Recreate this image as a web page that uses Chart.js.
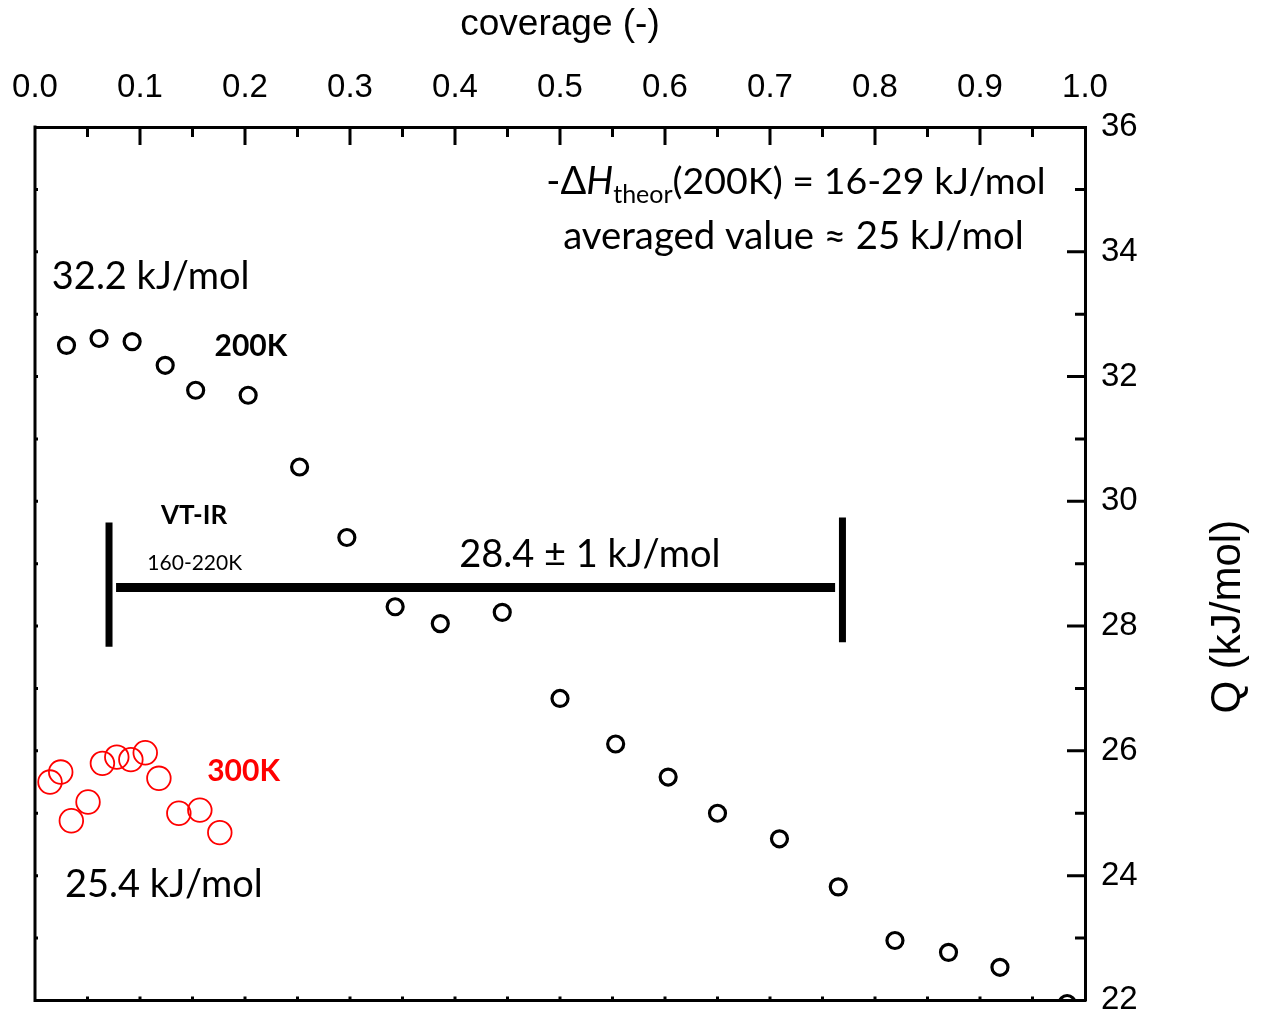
<!DOCTYPE html>
<html><head><meta charset="utf-8">
<script src="https://cdn.jsdelivr.net/npm/chart.js@4.4.1/dist/chart.umd.min.js"></script>
<style>html,body{margin:0;padding:0;background:#fff;}</style>
</head><body>
<canvas id="c" width="1269" height="1014"></canvas>
<script>
// ---- data ----
const coverage200 = [0.030, 0.061, 0.0925, 0.124, 0.153, 0.203, 0.252, 0.297, 0.343, 0.386, 0.445, 0.500, 0.553, 0.603, 0.650, 0.709, 0.765, 0.819, 0.870, 0.919, 0.983];
const q200        = [32.50, 32.61, 32.56, 32.18, 31.78, 31.70, 30.55, 29.42, 28.31, 28.04, 28.22, 26.84, 26.11, 25.58, 25.00, 24.59, 23.82, 22.96, 22.77, 22.53, 21.95];
const coverage300 = [0.0143, 0.0245, 0.0346, 0.0505, 0.0642, 0.0779, 0.0913, 0.105, 0.118, 0.137, 0.157, 0.176];
const q300        = [25.50, 25.66, 24.88, 25.18, 25.80, 25.90, 25.86, 25.97, 25.56, 25.00, 25.05, 24.69];
// VT-IR range bar (coverage span and Q level), with end caps
const vtirCoverage = [0.0772, 0.762];
const vtirQ = [28.62, 28.62];
const capLeftCoverage = [0.0705, 0.0705];
const capLeftQ = [27.67, 29.66];
const capRightCoverage = [0.769, 0.769];
const capRightQ = [27.74, 29.74];
const xTickValues = [0.0, 0.1, 0.2, 0.3, 0.4, 0.5, 0.6, 0.7, 0.8, 0.9, 1.0];
const yTickValues = [22, 24, 26, 28, 30, 32, 34, 36];

const pts = (xs, ys) => xs.map((x, i) => ({x: x, y: ys[i]}));

const ANN = 'Lato, "Open Sans", sans-serif';
const AX = '"Liberation Sans", Arial, sans-serif';

// annotations (positions in data units: left edge x, vertical centre y)
const labels = [
  {text: '32.2 kJ/mol', x: 0.016, y: 33.60, font: '38px ' + ANN, color: '#000'},
  {text: '200K', x: 0.171, y: 32.48, font: 'bold 30px ' + ANN, color: '#000'},
  {text: 'VT-IR', x: 0.120, y: 29.77, font: 'bold 26px ' + ANN, color: '#000'},
  {text: '160-220K', x: 0.107, y: 29.0, font: '21px ' + ANN, color: '#000'},
  {text: '28.4 \u00B1 1 kJ/mol', x: 0.404, y: 29.14, font: '38px ' + ANN, color: '#000'},
  {text: '300K', x: 0.164, y: 25.67, font: 'bold 30px ' + ANN, color: '#ff0000'},
  {text: '25.4 kJ/mol', x: 0.0286, y: 23.85, font: '38px ' + ANN, color: '#000'},
  {text: 'averaged value \u2248 25 kJ/mol', x: 0.503, y: 34.24, font: '38.3px ' + ANN, color: '#000'}
];

const framePlugin = {
  id: 'frame',
  afterDraw(chart) {
    const {ctx, chartArea: a, scales} = chart;
    const xs = scales.x, ys = scales.y;
    ctx.save();
    ctx.strokeStyle = '#000';
    ctx.lineWidth = 3;
    ctx.beginPath();
    ctx.moveTo(a.left, a.top - 1.5); ctx.lineTo(a.left, a.bottom + 1.5);
    ctx.moveTo(a.left - 1.5, a.bottom); ctx.lineTo(a.right + 1.5, a.bottom);
    ctx.stroke();
    // inward ticks
    ctx.beginPath();
    for (let i = 1; i < 20; i++) {
      const px = xs.getPixelForValue(i * 0.05);
      const major = i % 2 === 0;
      ctx.moveTo(px, a.top); ctx.lineTo(px, a.top + (major ? 18 : 10));
      ctx.moveTo(px, a.bottom); ctx.lineTo(px, a.bottom - 4);
    }
    for (let v = 23; v <= 35; v++) {
      const py = ys.getPixelForValue(v);
      const major = v % 2 === 0;
      ctx.moveTo(a.right, py); ctx.lineTo(a.right - (major ? 18 : 10), py);
      ctx.moveTo(a.left, py); ctx.lineTo(a.left + 3, py);
    }
    ctx.stroke();
    // right axis title (reads bottom-to-top)
    ctx.fillStyle = '#000';
    ctx.font = '42px ' + AX;
    ctx.textAlign = 'center';
    ctx.textBaseline = 'middle';
    ctx.translate(1228, (a.top + a.bottom) / 2 + 53);
    ctx.rotate(-Math.PI / 2);
    ctx.fillText('Q (kJ/mol)', 0, 0);
    ctx.restore();
  }
};

const textPlugin = {
  id: 'texts',
  afterDatasetsDraw(chart) {
    const {ctx, scales} = chart;
    const xs = scales.x, ys = scales.y;
    ctx.save();
    ctx.textBaseline = 'middle';
    ctx.textAlign = 'left';
    labels.forEach(l => {
      ctx.font = l.font;
      ctx.fillStyle = l.color;
      ctx.fillText(l.text, xs.getPixelForValue(l.x), ys.getPixelForValue(l.y));
    });
    // formula: -ΔH_theor(200K) = 16-29 kJ/mol
    let x = xs.getPixelForValue(0.487);
    const y = ys.getPixelForValue(35.12);
    ctx.fillStyle = '#000';
    ctx.font = '38px ' + ANN;
    ctx.fillText('-\u0394', x, y); x += ctx.measureText('-\u0394').width;
    ctx.font = 'italic 38px ' + ANN;
    ctx.fillText('H', x, y); x += ctx.measureText('H').width;
    ctx.font = '25px ' + ANN;
    ctx.fillText('theor', x, y + 13); x += ctx.measureText('theor').width;
    ctx.font = '37.5px ' + ANN;
    ctx.fillText('(200K) = 16-29 kJ/mol', x, y);
    ctx.restore();
  }
};

new Chart(document.getElementById('c'), {
  type: 'scatter',
  data: {
    datasets: [
      {label: '200K', data: pts(coverage200, q200), pointStyle: 'circle', pointRadius: 8, pointHoverRadius: 8,
       borderColor: '#000', backgroundColor: 'rgba(0,0,0,0)', pointBorderWidth: 3.2, borderWidth: 3.2, clip: 0},
      {label: '300K', data: pts(coverage300, q300), pointStyle: 'circle', pointRadius: 11.8, pointHoverRadius: 11.8,
       borderColor: '#ff0000', backgroundColor: 'rgba(0,0,0,0)', pointBorderWidth: 1.8, borderWidth: 1.8, clip: 0},
      {label: 'VT-IR', type: 'line', data: pts(vtirCoverage, vtirQ), showLine: true, pointRadius: 0,
       borderColor: '#000', borderWidth: 9, borderCapStyle: 'butt'},
      {label: 'capL', type: 'line', data: pts(capLeftCoverage, capLeftQ), showLine: true, pointRadius: 0,
       borderColor: '#000', borderWidth: 7, borderCapStyle: 'butt'},
      {label: 'capR', type: 'line', data: pts(capRightCoverage, capRightQ), showLine: true, pointRadius: 0,
       borderColor: '#000', borderWidth: 7, borderCapStyle: 'butt'}
    ]
  },
  options: {
    responsive: false,
    animation: false,
    devicePixelRatio: 1,
    layout: {padding: {left: 35, right: 0, top: 0, bottom: 11}},
    plugins: {legend: {display: false}, tooltip: {enabled: false}},
    scales: {
      x: {
        type: 'linear', position: 'top', min: 0, max: 1,
        afterFit: s => { s.height = 127; s.paddingLeft = 0; s.paddingRight = 0; },
        afterBuildTicks: s => { s.ticks = xTickValues.map(v => ({value: v})); },
        ticks: {padding: 19, color: '#000', font: {family: AX, size: 33}, maxRotation: 0, autoSkip: false,
                callback: v => Number(v).toFixed(1)},
        grid: {display: false, drawTicks: false},
        border: {display: true, color: '#000', width: 3},
        title: {display: true, text: 'coverage (-)', color: '#000', font: {family: AX, size: 37}, padding: {top: 3, bottom: 0}}
      },
      y: {
        type: 'linear', position: 'right', min: 22, max: 36,
        afterFit: s => { s.width = 184; s.paddingTop = 0; s.paddingBottom = 0; },
        afterBuildTicks: s => { s.ticks = yTickValues.map(v => ({value: v})); },
        ticks: {padding: 16, color: '#000', font: {family: AX, size: 33}, autoSkip: false},
        grid: {display: false, drawTicks: false},
        border: {display: true, color: '#000', width: 3}
      }
    }
  },
  plugins: [framePlugin, textPlugin]
});
</script>
</body></html>
